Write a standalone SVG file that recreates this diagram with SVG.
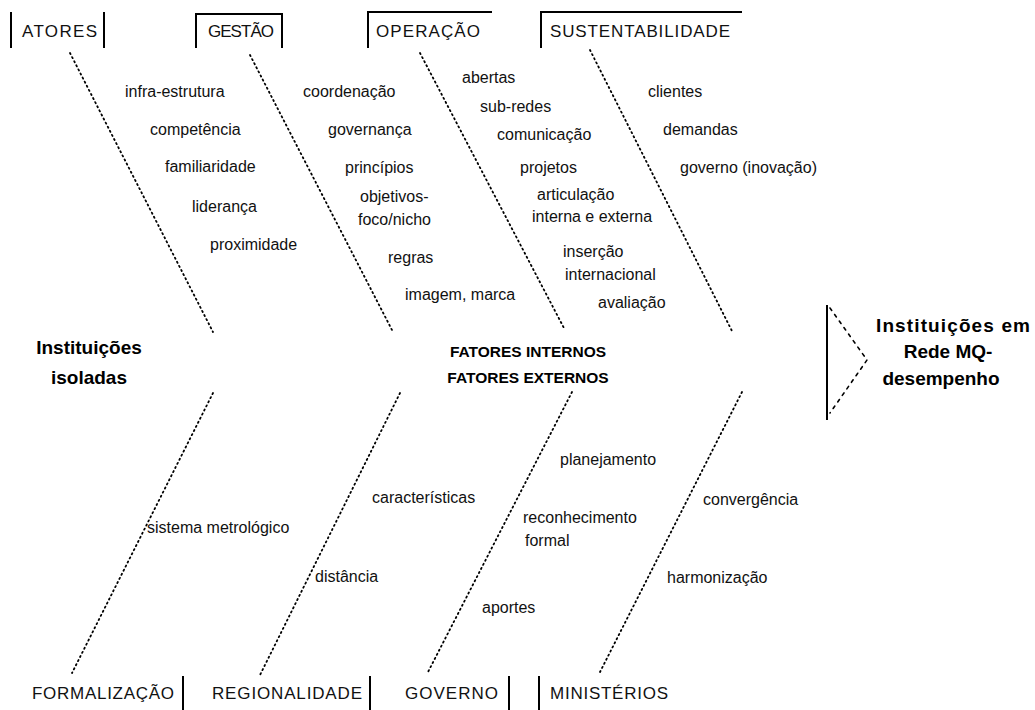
<svg xmlns="http://www.w3.org/2000/svg" width="1035" height="710" viewBox="0 0 1035 710">
<style>
.bg{fill:#fff}
.hdr{font-family:"Liberation Sans",Arial,sans-serif;font-size:17px;fill:#111}
.itm{font-family:"Liberation Sans",Arial,sans-serif;font-size:16px;fill:#111}
.big{font-family:"Liberation Sans",Arial,sans-serif;font-size:19px;font-weight:bold;fill:#000}
.mid{font-family:"Liberation Sans",Arial,sans-serif;font-size:15.5px;font-weight:bold;fill:#000}
.frame{fill:none;stroke:#000;stroke-width:2}
.bone{fill:none;stroke:#000;stroke-width:1.8;stroke-dasharray:1.2 3.4;stroke-linecap:round}
.head{fill:none;stroke:#000;stroke-width:1.6;stroke-dasharray:3 5;stroke-linecap:round}
</style>
<rect class="bg" x="0" y="0" width="1035" height="710"/>
<g id="connectors">
<line class="bone" x1="70" y1="53" x2="213" y2="332"/>
<line class="bone" x1="250" y1="55" x2="392" y2="330"/>
<line class="bone" x1="420" y1="53" x2="565" y2="330"/>
<line class="bone" x1="590" y1="50" x2="733" y2="333"/>
<line class="bone" x1="213" y1="393" x2="72" y2="673"/>
<line class="bone" x1="400" y1="393" x2="260" y2="675"/>
<line class="bone" x1="572" y1="392" x2="428" y2="672"/>
<line class="bone" x1="742" y1="392" x2="600" y2="672"/>
</g>
<g id="head">
<line class="frame" x1="827" y1="305" x2="827" y2="420"/>
<polyline class="head" points="830,308 867,360 830,413"/>
</g>
<g id="atores">
<line class="frame" x1="11" y1="12" x2="11" y2="48"/>
<line class="frame" x1="104" y1="12" x2="104" y2="48"/>
<text class="hdr" x="22" y="37" textLength="75">ATORES</text>
</g>
<g id="gestao">
<polyline class="frame" points="196,48 196,14 282,14 282,48"/>
<text class="hdr" x="208" y="37" textLength="66">GESTÃO</text>
</g>
<g id="operacao">
<polyline class="frame" points="368,48 368,12 492,12"/>
<text class="hdr" x="376" y="37" textLength="104">OPERAÇÃO</text>
</g>
<g id="sustentabilidade">
<polyline class="frame" points="541,48 541,12 742,12"/>
<text class="hdr" x="550" y="37" textLength="180">SUSTENTABILIDADE</text>
</g>
<g id="atores-items">
<text class="itm" x="125" y="97">infra-estrutura</text>
<text class="itm" x="150" y="135">competência</text>
<text class="itm" x="165" y="172">familiaridade</text>
<text class="itm" x="192" y="212">liderança</text>
<text class="itm" x="210" y="250">proximidade</text>
</g>
<g id="gestao-items">
<text class="itm" x="303" y="97">coordenação</text>
<text class="itm" x="328" y="135">governança</text>
<text class="itm" x="345" y="173">princípios</text>
<text class="itm" x="360" y="202">objetivos-</text>
<text class="itm" x="358" y="225">foco/nicho</text>
<text class="itm" x="388" y="263">regras</text>
<text class="itm" x="405" y="300">imagem, marca</text>
</g>
<g id="operacao-items">
<text class="itm" x="462" y="83">abertas</text>
<text class="itm" x="480" y="112">sub-redes</text>
<text class="itm" x="497" y="140">comunicação</text>
<text class="itm" x="520" y="173">projetos</text>
<text class="itm" x="537" y="200">articulação</text>
<text class="itm" x="532" y="222">interna e externa</text>
<text class="itm" x="563" y="257">inserção</text>
<text class="itm" x="565" y="280">internacional</text>
<text class="itm" x="598" y="308">avaliação</text>
</g>
<g id="sustentabilidade-items">
<text class="itm" x="648" y="97">clientes</text>
<text class="itm" x="663" y="135">demandas</text>
<text class="itm" x="680" y="173">governo (inovação)</text>
</g>
<g id="isoladas">
<text class="big" x="89" y="354" text-anchor="middle">Instituições</text>
<text class="big" x="89" y="384" text-anchor="middle">isoladas</text>
</g>
<g id="fatores">
<text class="mid" x="528" y="357" text-anchor="middle">FATORES INTERNOS</text>
<text class="mid" x="528" y="383" text-anchor="middle">FATORES EXTERNOS</text>
</g>
<g id="rede">
<text class="big" x="953" y="332" text-anchor="middle" textLength="154">Instituições em</text>
<text class="big" x="948" y="358" text-anchor="middle">Rede MQ-</text>
<text class="big" x="941" y="385" text-anchor="middle">desempenho</text>
</g>
<g id="formalizacao-items">
<text class="itm" x="147" y="533">sistema metrológico</text>
</g>
<g id="regionalidade-items">
<text class="itm" x="372" y="503">características</text>
<text class="itm" x="315" y="582">distância</text>
</g>
<g id="governo-items">
<text class="itm" x="560" y="465">planejamento</text>
<text class="itm" x="523" y="523">reconhecimento</text>
<text class="itm" x="525" y="546">formal</text>
<text class="itm" x="482" y="613">aportes</text>
</g>
<g id="ministerios-items">
<text class="itm" x="703" y="505">convergência</text>
<text class="itm" x="667" y="583">harmonização</text>
</g>
<g id="formalizacao">
<text class="hdr" x="32" y="699" textLength="142">FORMALIZAÇÃO</text>
<line class="frame" x1="183" y1="676" x2="183" y2="710"/>
</g>
<g id="regionalidade">
<text class="hdr" x="212" y="699" textLength="150">REGIONALIDADE</text>
<line class="frame" x1="370" y1="676" x2="370" y2="710"/>
</g>
<g id="governo">
<text class="hdr" x="405" y="699" textLength="93">GOVERNO</text>
<line class="frame" x1="509" y1="676" x2="509" y2="710"/>
</g>
<g id="ministerios">
<line class="frame" x1="539" y1="676" x2="539" y2="710"/>
<text class="hdr" x="550" y="699" textLength="118">MINISTÉRIOS</text>
</g>
</svg>
